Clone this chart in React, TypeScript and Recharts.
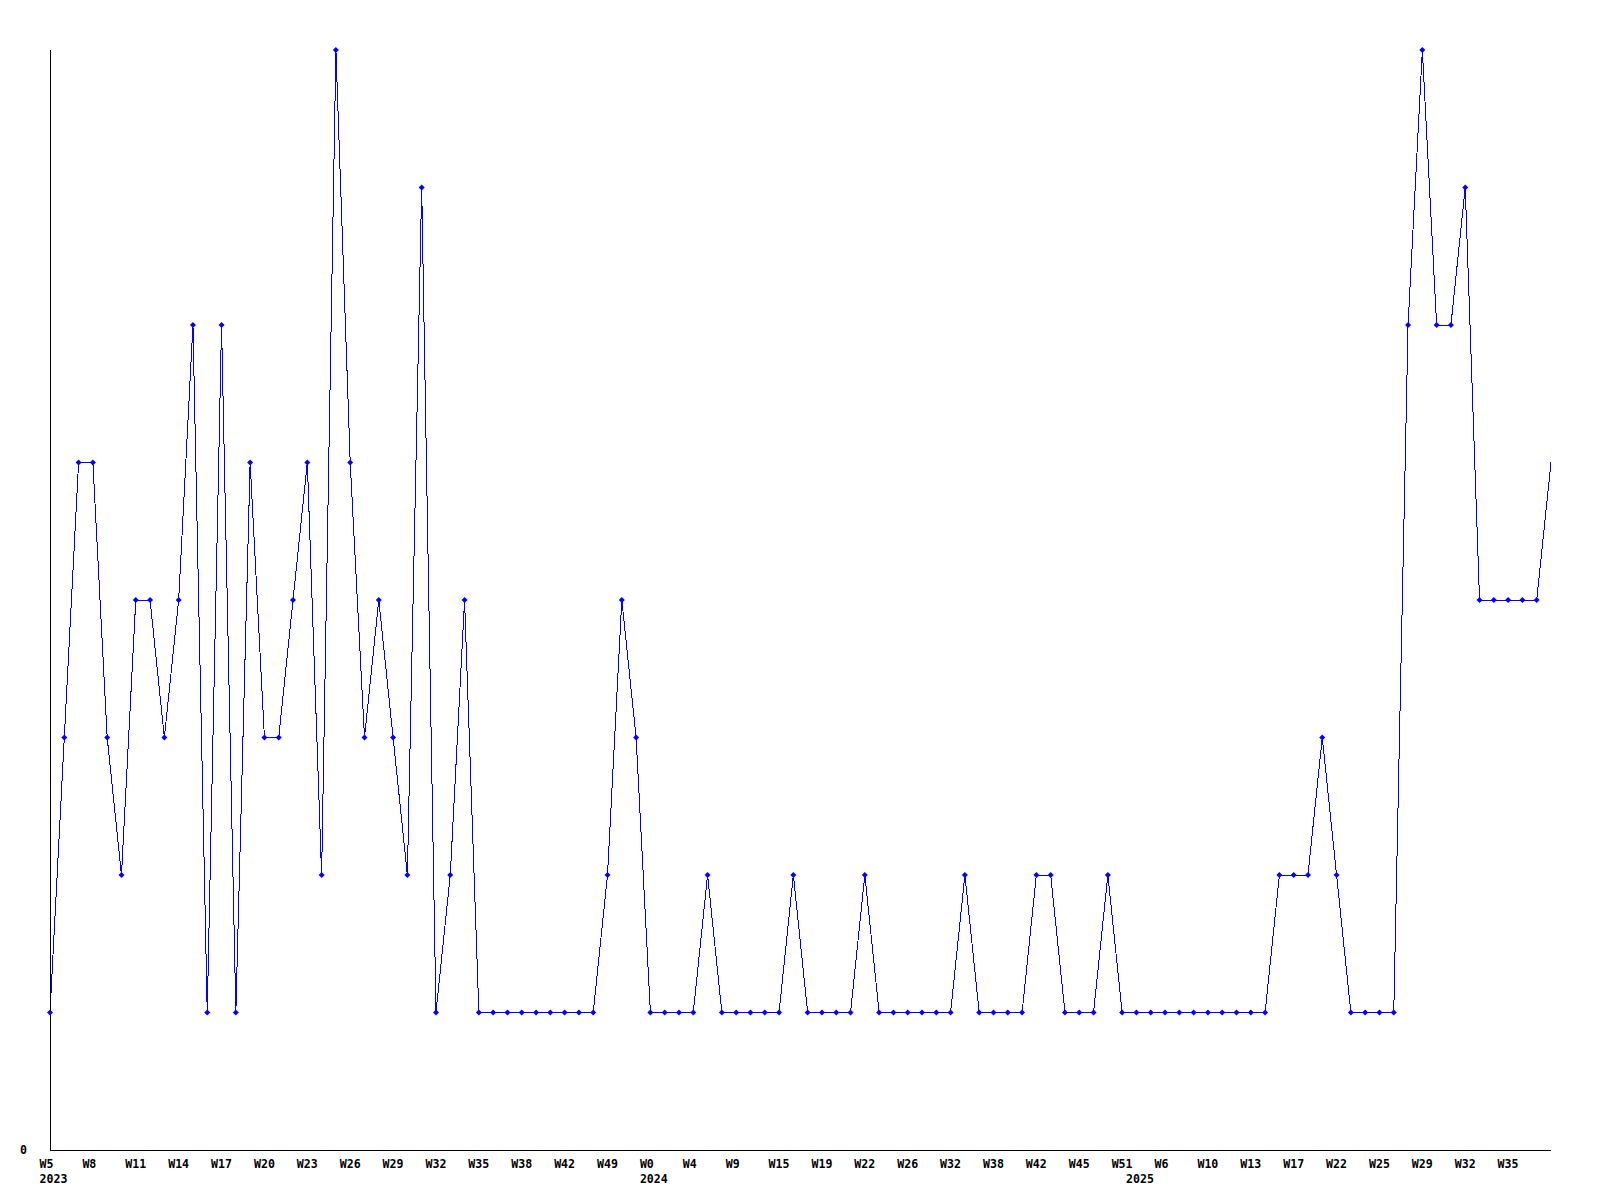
import React from 'react';
import { LineChart, Line, XAxis, YAxis } from 'recharts';

// weeks that have a value, per year (gaps are weeks with no entry)
const weeks2023 = [5, 6, 7, 8, 9, 10, 11, 12, 13, 14, 15, 16, 17, 18, 19, 20, 21, 22, 23, 24, 25, 26, 27, 28, 29, 30, 31, 32, 33, 34, 35, 36, 37, 38, 39, 40, 42, 44, 46, 49, 50, 52];
const counts2023 = [1, 3, 5, 5, 3, 2, 4, 4, 3, 4, 6, 1, 6, 1, 5, 3, 3, 4, 5, 2, 8, 5, 3, 4, 3, 2, 7, 1, 2, 4, 1, 1, 1, 1, 1, 1, 1, 1, 1, 2, 4, 3];

const weeks2024 = [0, 2, 3, 4, 6, 7, 9, 11, 13, 15, 16, 18, 19, 20, 21, 22, 24, 25, 26, 28, 30, 32, 34, 36, 38, 40, 41, 42, 43, 44, 45, 47, 49, 51];
const counts2024 = [1, 1, 1, 1, 2, 1, 1, 1, 1, 1, 2, 1, 1, 1, 1, 2, 1, 1, 1, 1, 1, 1, 2, 1, 1, 1, 1, 2, 2, 1, 1, 1, 2, 1];

const weeks2025 = [0, 3, 6, 7, 8, 10, 11, 12, 13, 15, 16, 17, 19, 20, 22, 23, 24, 25, 27, 28, 29, 30, 31, 32, 33, 34, 35, 36, 37, 38];
const counts2025 = [1, 1, 1, 1, 1, 1, 1, 1, 1, 1, 2, 2, 2, 3, 2, 1, 1, 1, 1, 6, 8, 6, 6, 7, 4, 4, 4, 4, 4, 5];

const yTicks = [0];

type Row = { key: string; year: number; week: number; count: number; yearStart: boolean };

const rows: Row[] = [];
const addYear = (year: number, weeks: number[], counts: number[]) => {
  weeks.forEach((w, i) => {
    rows.push({ key: `${year}-W${w}`, year, week: w, count: counts[i], yearStart: i === 0 });
  });
};
addYear(2023, weeks2023, counts2023);
addYear(2024, weeks2024, counts2024);
addYear(2025, weeks2025, counts2025);

const labelFont = {
  fontFamily: '"DejaVu Sans Mono", monospace',
  fontWeight: 'bold' as const,
  fontSize: 11.6,
  fill: '#000',
};

// every third week gets a label (not the last, open week), plus the year under the first week of each year
const WeekTick = (props: any) => {
  const { x, y, payload } = props;
  const idx = rows.findIndex(r => r.key === payload.value);
  const row = rows[idx];
  if (!row) return null;
  const showWeek = idx % 3 === 0 && idx < rows.length - 1;
  if (!showWeek && !row.yearStart) return null;
  return (
    <g>
      {showWeek && (
        <text x={x - 10.5} y={y + 17.5} textAnchor="start" {...labelFont}>
          {`W${row.week}`}
        </text>
      )}
      {row.yearStart && (
        <text x={x - 10.5} y={y + 32.5} textAnchor="start" {...labelFont}>
          {row.year}
        </text>
      )}
    </g>
  );
};

const ValueTick = (props: any) => {
  const { x, y, payload } = props;
  return (
    <text x={x - 30} y={y + 4} textAnchor="start" {...labelFont}>
      {payload.value}
    </text>
  );
};

const Marker = (props: any) => {
  const { cx, cy, index } = props;
  if (index === rows.length - 1 || cx == null) return <g key={`m${index}`} />;
  return (
    <path
      key={`m${index}`}
      d={`M${cx},${cy - 3}L${cx + 3},${cy}L${cx},${cy + 3}L${cx - 3},${cy}Z`}
      fill="#0000ff"
    />
  );
};

export default function App() {
  return (
    <div style={{ position: 'absolute', left: 0, top: 0, width: 1600, height: 1200, background: '#fff' }}>
      <LineChart
        width={1600}
        height={1200}
        data={rows}
        margin={{ top: 50, right: 49, bottom: 0, left: 0 }}
      >
        <XAxis
          dataKey="key"
          type="category"
          interval={0}
          height={50}
          tickSize={0}
          tickMargin={0}
          tickLine={false}
          axisLine={{ stroke: '#000', strokeWidth: 1, shapeRendering: 'crispEdges' }}
          tick={<WeekTick />}
        />
        <YAxis
          type="number"
          domain={[0, 8]}
          ticks={yTicks}
          width={50}
          tickSize={0}
          tickMargin={0}
          tickLine={false}
          axisLine={{ stroke: '#000', strokeWidth: 1, shapeRendering: 'crispEdges' }}
          tick={<ValueTick />}
        />
        <Line
          type="linear"
          dataKey="count"
          stroke="#0000ff"
          strokeWidth={1}
          shapeRendering="crispEdges"
          dot={<Marker />}
          activeDot={false}
          isAnimationActive={false}
        />
      </LineChart>
    </div>
  );
}
